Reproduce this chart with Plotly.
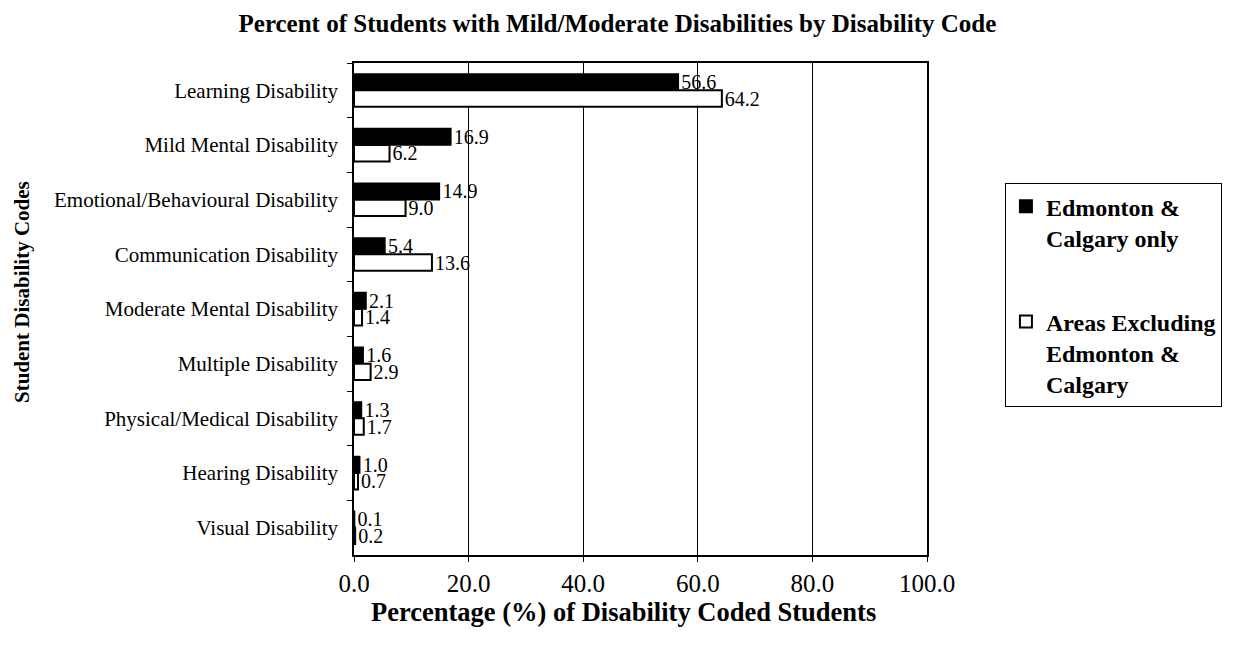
import plotly.graph_objects as go

categories = ["Learning Disability", "Mild Mental Disability", "Emotional/Behavioural Disability",
              "Communication Disability", "Moderate Mental Disability", "Multiple Disability",
              "Physical/Medical Disability", "Hearing Disability", "Visual Disability"]
edm_cal = [56.6, 16.9, 14.9, 5.4, 2.1, 1.6, 1.3, 1.0, 0.1]
areas_excl = [64.2, 6.2, 9.0, 13.6, 1.4, 2.9, 1.7, 0.7, 0.2]
x_ticks = [0, 20, 40, 60, 80, 100]

FONT = "Liberation Serif"

fig = go.Figure()
fig.add_trace(go.Bar(
    y=categories, x=edm_cal, orientation="h", name="Edmonton &<br>Calgary only",
    marker=dict(color="black", line=dict(color="black", width=1.5)),
    texttemplate="%{x:.1f}", textposition="outside", cliponaxis=False, constraintext="none",
    textfont=dict(family=FONT, size=20, color="black"), legendgroup="a",
))
fig.add_trace(go.Bar(
    y=categories, x=areas_excl, orientation="h", name="Areas Excluding<br>Edmonton &<br>Calgary",
    marker=dict(color="white", line=dict(color="black", width=2)),
    texttemplate="%{x:.1f}", textposition="outside", cliponaxis=False, constraintext="none",
    textfont=dict(family=FONT, size=20, color="black"), legendgroup="b",
))

fig.update_layout(
    width=1227, height=643,
    margin=dict(l=346, r=308, t=55, b=96),
    paper_bgcolor="white", plot_bgcolor="white",
    barmode="group", bargap=0.4, bargroupgap=0.0,
    font=dict(family=FONT, color="black"),
    title=dict(text="<b>Percent of Students with Mild/Moderate Disabilities by Disability Code</b>",
               x=0.4967, xanchor="center", y=0.977, yanchor="middle",
               font=dict(family=FONT, size=25, color="black")),
    legend=dict(x=1.136, y=0.756, xanchor="left", yanchor="top", valign="top",
                bgcolor="white", bordercolor="black", borderwidth=1,
                font=dict(family=FONT, size=24, color="black", weight="bold"),
                tracegroupgap=50, itemsizing="constant", itemwidth=30),
    showlegend=True,
    annotations=[
        dict(text="<b>Student Disability Codes</b>", textangle=-90,
             xref="paper", yref="paper", x=-0.5794, y=0.5346,
             xanchor="center", yanchor="middle", showarrow=False,
             font=dict(family=FONT, size=21, color="black")),
        dict(text="<b>Percentage (%) of Disability Coded Students</b>",
             xref="paper", yref="paper", x=0.470, y=-0.1159,
             xanchor="center", yanchor="middle", showarrow=False,
             font=dict(family=FONT, size=26.5, color="black")),
    ],
)
fig.update_xaxes(
    range=[0, 100], tickvals=x_ticks, ticktext=[f"{v:.1f}" for v in x_ticks],
    tickfont=dict(family=FONT, size=25, color="black"),
    showgrid=True, gridcolor="black", gridwidth=1,
    showline=True, linecolor="black", linewidth=1.5, mirror=True,
    ticks="outside", ticklen=5, tickcolor="black", zeroline=False,
)
fig.update_yaxes(
    autorange="reversed", categoryorder="array", categoryarray=categories,
    tickfont=dict(family=FONT, size=21, color="black"),
    showline=True, linecolor="black", linewidth=1.5, mirror=True,
    ticks="outside", ticklen=5, tickcolor="black", tickson="boundaries",
    ticklabelstandoff=10, showgrid=False,
)

fig.write_html("out.html")
